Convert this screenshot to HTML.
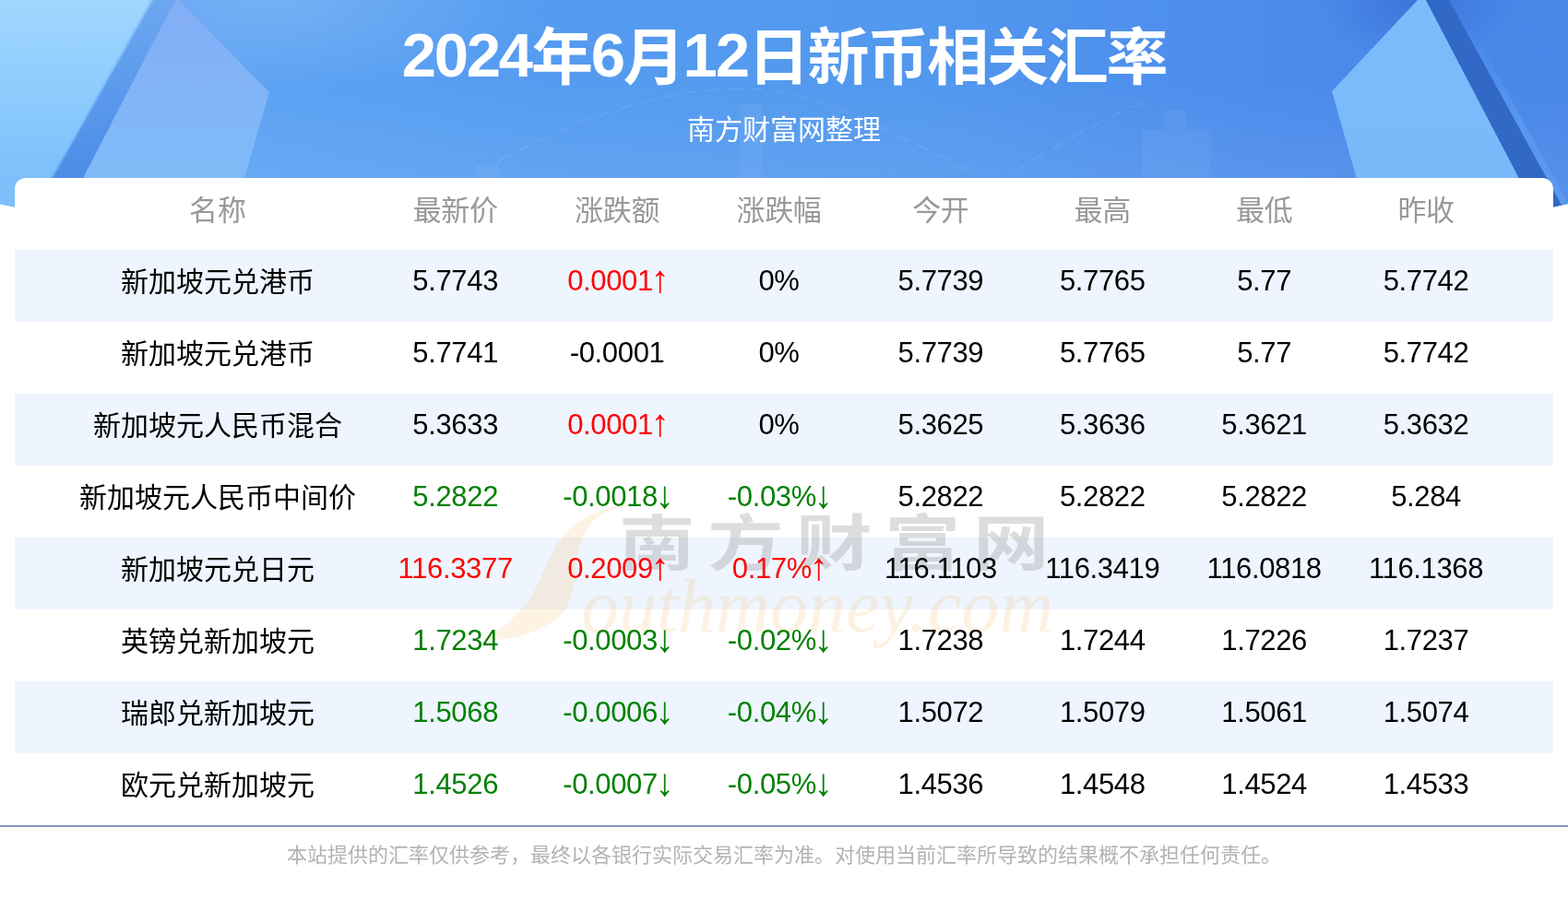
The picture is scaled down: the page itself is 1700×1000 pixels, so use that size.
<!DOCTYPE html>
<html lang="zh-CN">
<head>
<meta charset="utf-8">
<title>2024年6月12日新币相关汇率</title>
<style>
*{margin:0;padding:0;box-sizing:border-box}
html,body{width:1700px;height:1000px;overflow:hidden;background:#fff}
body{position:relative;font-family:"Liberation Sans","Noto Sans CJK SC",sans-serif;color:#000}
.hdr{position:absolute;left:0;top:0;width:1700px;height:226px;overflow:hidden;
  clip-path:polygon(0 0,1700px 0,1700px 221px,1684px 224.5px,16px 224.5px,0 221px);
  background:#5597ee}
.hdr svg{position:absolute;left:0;top:0}
.title{position:absolute;left:0;top:25px;width:1700px;text-align:center;color:#fff;font-weight:bold;font-size:67px;line-height:76px;letter-spacing:-2.2px}
.title .d{position:relative;top:-3px}
.sub{position:absolute;left:0;top:121px;width:1700px;text-align:center;color:#fff;font-size:30px;line-height:40px}
.card{position:absolute;left:16px;top:193px;width:1668px;height:702px;background:#fff;border-radius:12px 12px 0 0}
.row{position:absolute;left:0;width:1668px;height:78px;display:flex;align-items:center;padding-left:50px}
.stripe{position:absolute;left:0;width:1668px;height:78px;background:#eef5fe}
.c{flex:none;text-align:center;font-size:30px;line-height:40px;white-space:nowrap;position:relative;top:-5px}
.ar{display:inline-block;transform:scale(1.31,1.345);transform-origin:50% 60%}
.c1{width:340px;top:-4.2px}
.cn{width:175.4px;font-size:31px;letter-spacing:-0.35px}
.th .c{color:#999;font-size:31px;top:-3.5px}
.r{color:#f00}
.g{color:#008000}
.line{position:absolute;left:0;top:895px;width:1700px;height:2px;background:#7f99c0}
.foot{position:absolute;left:0;top:913px;width:1700px;text-align:center;color:#b3b3b3;font-size:22px;line-height:30px}
.wm{position:absolute;pointer-events:none;white-space:nowrap}
.wmcn{font-family:"Noto Sans CJK SC",sans-serif;font-weight:700;font-size:66px;line-height:66px;letter-spacing:10.8px;color:rgba(150,150,150,0.32);transform:scaleX(1.25);transform-origin:0 0}
.wmen{font-family:"Liberation Serif",serif;font-style:italic;font-size:82px;line-height:82px;letter-spacing:0;color:rgba(246,190,110,0.2)}
</style>
</head>
<body>
<div class="hdr">
<svg width="1700" height="226" viewBox="0 0 1700 226">
  <defs>
    <linearGradient id="gb" x1="0" y1="0" x2="1700" y2="0" gradientUnits="userSpaceOnUse">
      <stop offset="0.15" stop-color="#5ca2f3"/>
      <stop offset="0.35" stop-color="#559cf0"/>
      <stop offset="0.59" stop-color="#5298ee"/>
      <stop offset="0.8" stop-color="#4c8cec"/>
      <stop offset="1" stop-color="#4886e8"/>
    </linearGradient>
    <radialGradient id="gtl" cx="0" cy="0" r="1" gradientUnits="userSpaceOnUse" gradientTransform="translate(300 0) scale(280 100)">
      <stop offset="0" stop-color="#fff" stop-opacity="0.16"/>
      <stop offset="1" stop-color="#fff" stop-opacity="0"/>
    </radialGradient>
    <linearGradient id="gbt" x1="0" y1="90" x2="0" y2="200" gradientUnits="userSpaceOnUse">
      <stop offset="0" stop-color="#fff" stop-opacity="0"/>
      <stop offset="1" stop-color="#fff" stop-opacity="0.08"/>
    </linearGradient>
    <linearGradient id="glp" x1="0" y1="0" x2="0" y2="200" gradientUnits="userSpaceOnUse">
      <stop offset="0" stop-color="#a0d7ff"/>
      <stop offset="1" stop-color="#7cbffb"/>
    </linearGradient>
    <linearGradient id="gls" x1="0" y1="0" x2="0" y2="200" gradientUnits="userSpaceOnUse">
      <stop offset="0" stop-color="#6ca7f1"/>
      <stop offset="1" stop-color="#4a8be6"/>
    </linearGradient>
    <linearGradient id="glk" x1="0" y1="0" x2="0" y2="200" gradientUnits="userSpaceOnUse">
      <stop offset="0" stop-color="#84adf6"/>
      <stop offset="1" stop-color="#7fbcf8"/>
    </linearGradient>
    <linearGradient id="grk" x1="0" y1="0" x2="0" y2="200" gradientUnits="userSpaceOnUse">
      <stop offset="0" stop-color="#7dbcfb"/>
      <stop offset="1" stop-color="#79b9fa"/>
    </linearGradient>
    <filter id="fb" x="-20%" y="-5%" width="140%" height="110%"><feGaussianBlur stdDeviation="1.6"/></filter>
    <radialGradient id="gtr" cx="0" cy="0" r="1" gradientUnits="userSpaceOnUse" gradientTransform="translate(1535 0) scale(110 70)">
      <stop offset="0" stop-color="#2a5cc4" stop-opacity="0.45"/>
      <stop offset="1" stop-color="#2a5cc4" stop-opacity="0"/>
    </radialGradient>
    <linearGradient id="gband" x1="0" y1="0" x2="0" y2="226" gradientUnits="userSpaceOnUse">
      <stop offset="0.15" stop-color="#5c9cf0" stop-opacity="0"/>
      <stop offset="0.6" stop-color="#5c9cf0" stop-opacity="0.75"/>
      <stop offset="1" stop-color="#5c9cf0" stop-opacity="0.75"/>
    </linearGradient>
  </defs>
  <rect x="0" y="0" width="1700" height="226" fill="url(#gb)"/>
  <rect x="0" y="0" width="1700" height="226" fill="url(#gtl)"/>
  <rect x="0" y="0" width="1700" height="226" fill="url(#gbt)"/>
  <rect x="1380" y="0" width="320" height="120" fill="url(#gtr)"/>
  <!-- faint buildings -->
  <g fill="#fff" opacity="0.05">
    <rect x="1238" y="141" width="75" height="85"/>
    <rect x="1262" y="120" width="25" height="21"/>
    <rect x="802" y="113" width="25" height="113"/>
    <rect x="516" y="179" width="25" height="47"/>
  </g>
  <path d="M540 175 C640 120,730 96,806 96 C880 96,960 140,1050 185 M1100 186 C1150 156,1200 125,1250 108" fill="none" stroke="#fff" stroke-opacity="0.08" stroke-width="2" stroke-dasharray="14 10"/>
  <!-- left light panel -->
  <polygon points="0,0 168,0 38,226 0,226" fill="url(#glp)"/>
  <!-- left dark stripe -->
  <polygon points="168,-5 196,-5 76,230 36,230" fill="url(#gls)" filter="url(#fb)"/>
  <!-- left kite -->
  <polygon points="190,0 194,0 292,100 265,193 258,226 73,226" fill="url(#glk)"/>
  <!-- right kite -->
  <polygon points="1444,99 1537,0 1546,0 1664,226 1480,226" fill="url(#grk)"/>
  <!-- right dark stripe -->
  <polygon points="1546,0 1571,0 1695,226 1664,226" fill="#3268c6"/>
  <polygon points="1571,0 1579,0 1703,226 1695,226" fill="url(#gband)"/>
</svg>
<div class="title"><span class="d">2024</span>年<span class="d">6</span>月<span class="d">12</span>日新币相关汇率</div>
<div class="sub">南方财富网整理</div>
</div>

<div class="card">
  <div class="stripe" style="top:78px"></div><div class="stripe" style="top:234px"></div><div class="stripe" style="top:390px"></div><div class="stripe" style="top:546px"></div>
  <svg class="wm" style="left:0;top:0" width="1668" height="702" viewBox="16 193 1668 702">
    <path d="M683 546 C655 550,625 563,610 582 C596 600,590 618,584 632 C575 652,555 678,521 695 C560 694,595 684,612 662 C622 648,623 630,624 618 C626 595,632 577,645 563 C657 553,672 549,687 548 Z" fill="#f8c070" fill-opacity="0.2"/>
  </svg>
  <div class="wm wmcn" style="left:655px;top:358px">南方财富网</div>
  <div class="wm wmen" style="left:614px;top:424px">outhmoney.com</div>
  <div class="row th" style="top:0;height:78px">
    <div class="c c1">名称</div><div class="c cn">最新价</div><div class="c cn">涨跌额</div><div class="c cn">涨跌幅</div><div class="c cn">今开</div><div class="c cn">最高</div><div class="c cn">最低</div><div class="c cn">昨收</div>
  </div>
  <div class="row" style="top:78px"><div class="c c1">新加坡元兑港币</div><div class="c cn">5.7743</div><div class="c cn r">0.0001<span class="ar">↑</span></div><div class="c cn">0%</div><div class="c cn">5.7739</div><div class="c cn">5.7765</div><div class="c cn">5.77</div><div class="c cn">5.7742</div></div>
  <div class="row" style="top:156px"><div class="c c1">新加坡元兑港币</div><div class="c cn">5.7741</div><div class="c cn">-0.0001</div><div class="c cn">0%</div><div class="c cn">5.7739</div><div class="c cn">5.7765</div><div class="c cn">5.77</div><div class="c cn">5.7742</div></div>
  <div class="row" style="top:234px"><div class="c c1">新加坡元人民币混合</div><div class="c cn">5.3633</div><div class="c cn r">0.0001<span class="ar">↑</span></div><div class="c cn">0%</div><div class="c cn">5.3625</div><div class="c cn">5.3636</div><div class="c cn">5.3621</div><div class="c cn">5.3632</div></div>
  <div class="row" style="top:312px"><div class="c c1">新加坡元人民币中间价</div><div class="c cn g">5.2822</div><div class="c cn g">-0.0018<span class="ar">↓</span></div><div class="c cn g">-0.03%<span class="ar">↓</span></div><div class="c cn">5.2822</div><div class="c cn">5.2822</div><div class="c cn">5.2822</div><div class="c cn">5.284</div></div>
  <div class="row" style="top:390px"><div class="c c1">新加坡元兑日元</div><div class="c cn r">116.3377</div><div class="c cn r">0.2009<span class="ar">↑</span></div><div class="c cn r">0.17%<span class="ar">↑</span></div><div class="c cn">116.1103</div><div class="c cn">116.3419</div><div class="c cn">116.0818</div><div class="c cn">116.1368</div></div>
  <div class="row" style="top:468px"><div class="c c1">英镑兑新加坡元</div><div class="c cn g">1.7234</div><div class="c cn g">-0.0003<span class="ar">↓</span></div><div class="c cn g">-0.02%<span class="ar">↓</span></div><div class="c cn">1.7238</div><div class="c cn">1.7244</div><div class="c cn">1.7226</div><div class="c cn">1.7237</div></div>
  <div class="row" style="top:546px"><div class="c c1">瑞郎兑新加坡元</div><div class="c cn g">1.5068</div><div class="c cn g">-0.0006<span class="ar">↓</span></div><div class="c cn g">-0.04%<span class="ar">↓</span></div><div class="c cn">1.5072</div><div class="c cn">1.5079</div><div class="c cn">1.5061</div><div class="c cn">1.5074</div></div>
  <div class="row" style="top:624px"><div class="c c1">欧元兑新加坡元</div><div class="c cn g">1.4526</div><div class="c cn g">-0.0007<span class="ar">↓</span></div><div class="c cn g">-0.05%<span class="ar">↓</span></div><div class="c cn">1.4536</div><div class="c cn">1.4548</div><div class="c cn">1.4524</div><div class="c cn">1.4533</div></div>
</div>
<div class="line"></div>
<div class="foot">本站提供的汇率仅供参考，最终以各银行实际交易汇率为准。对使用当前汇率所导致的结果概不承担任何责任。</div>
</body>
</html>
